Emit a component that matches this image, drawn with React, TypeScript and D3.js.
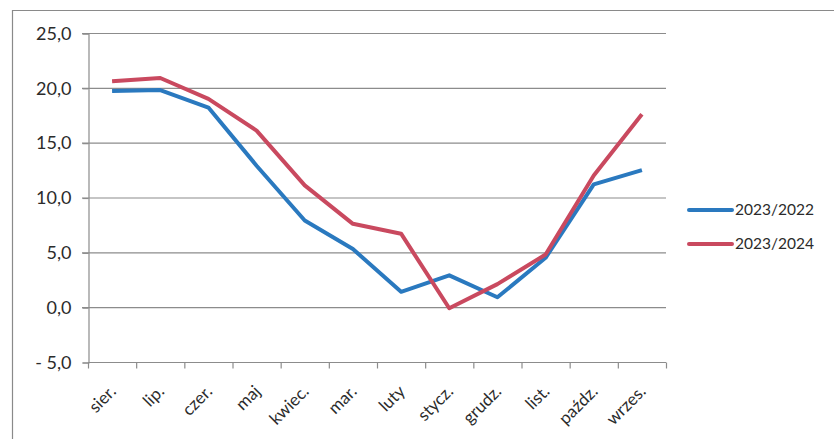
import { useEffect, useRef } from "react"
import * as d3 from "d3"

const months = ["sier.", "lip.", "czer.", "maj", "kwiec.", "mar.", "luty", "stycz.", "grudz.", "list.", "paźdz.", "wrzes."]
const series2022 = [19.7, 19.8, 18.2, 12.9, 7.9, 5.3, 1.4, 2.9, 0.9, 4.5, 11.2, 12.5]
const series2024 = [20.6, 20.9, 19.0, 16.1, 11.1, 7.6, 6.7, -0.1, 2.1, 4.8, 12.0, 17.6]
const yTicks = [-5, 0, 5, 10, 15, 20, 25]

const seriesList = [
  { name: "2023/2022", values: series2022, color: "#2a79bf" },
  { name: "2023/2024", values: series2024, color: "#c9495f" },
]

const W = 834
const H = 439

export default function App() {
  const svgRef = useRef<SVGSVGElement>(null)

  useEffect(() => {
    const svg = d3.select(svgRef.current!)
    svg.selectAll("*").remove()

    const left = 88
    const right = 666
    const top = 33
    const bottom = 362
    const font = "Lato, 'Open Sans', sans-serif"
    const textColor = "#2b2b2b"

    // outer frame (only top and left visible in the scan)
    svg.append("path").attr("d", `M12.5,${H} V10.5 H${W}`).attr("fill", "none").attr("stroke", "#8a8a8a").attr("stroke-width", 1.2)

    const x = d3.scaleBand<string>().domain(months).range([left, right])
    const y = d3.scaleLinear().domain([-5, 25]).range([bottom, top])

    const fmt = (v: number) => (v < 0 ? "- " + Math.abs(v).toFixed(1) : v.toFixed(1)).replace(".", ",")

    // gridlines
    svg
      .append("g")
      .selectAll("line")
      .data(yTicks.filter((t) => t !== -5))
      .enter()
      .append("line")
      .attr("x1", left - 6)
      .attr("x2", right)
      .attr("y1", (d) => y(d) + 0.5)
      .attr("y2", (d) => y(d) + 0.5)
      .attr("stroke", "#8c8c8c")
      .attr("stroke-width", 1.2)

    // y axis
    const yAxis = svg.append("g").attr("transform", `translate(${left + 0.5},0.5)`)
    yAxis.call(
      d3
        .axisLeft(y)
        .tickValues(yTicks)
        .tickSize(6)
        .tickFormat((d) => fmt(d as number)),
    )
    yAxis.select(".domain").attr("stroke", "#8c8c8c").attr("stroke-width", 1.2)
    yAxis.selectAll(".tick line").attr("stroke", "#8c8c8c").attr("stroke-width", 1.2)
    yAxis
      .selectAll(".tick text")
      .attr("x", -17)
      .attr("font-family", font)
      .attr("font-size", 18)
      .attr("fill", textColor)

    // x axis
    const xAxis = svg.append("g").attr("transform", `translate(0,${bottom + 0.5})`)
    xAxis.append("line").attr("x1", left).attr("x2", right).attr("stroke", "#8c8c8c").attr("stroke-width", 1.2)
    const tickXs = months.map((m) => x(m)!).concat([right])
    xAxis
      .selectAll("line.tk")
      .data(tickXs)
      .enter()
      .append("line")
      .attr("class", "tk")
      .attr("x1", (d) => d + 0.5)
      .attr("x2", (d) => d + 0.5)
      .attr("y1", 0)
      .attr("y2", 6)
      .attr("stroke", "#8c8c8c")
      .attr("stroke-width", 1.2)
    xAxis
      .selectAll("text")
      .data(months)
      .enter()
      .append("text")
      .attr("transform", (d) => `translate(${x(d)! + x.bandwidth() / 2 + 5},30) rotate(-45)`)
      .attr("text-anchor", "end")
      .attr("font-family", font)
      .attr("font-size", 17)
      .attr("fill", textColor)
      .text((d) => d)

    // lines
    const line = d3
      .line<number>()
      .x((_, i) => x(months[i])! + x.bandwidth() / 2)
      .y((d) => y(d))
    svg
      .append("g")
      .selectAll("path")
      .data(seriesList)
      .enter()
      .append("path")
      .attr("d", (d) => line(d.values))
      .attr("fill", "none")
      .attr("stroke", (d) => d.color)
      .attr("stroke-width", 4)
      .attr("stroke-linejoin", "round")

    // legend
    const legend = svg.append("g").attr("transform", "translate(689,210)")
    seriesList.forEach((s, i) => {
      const g = legend.append("g").attr("transform", `translate(0,${i * 34})`)
      g.append("line").attr("x1", 0).attr("x2", 43).attr("stroke", s.color).attr("stroke-width", 4).attr("stroke-linecap", "round")
      g.append("text")
        .attr("x", 46)
        .attr("dy", "0.35em")
        .attr("font-family", font)
        .attr("font-size", 15.5)
        .attr("fill", textColor)
        .text(s.name)
    })
  }, [])

  return (
    <div style={{ position: "absolute", left: 0, top: 0 }}>
      <svg ref={svgRef} width={W} height={H} style={{ display: "block", background: "#fff" }} />
    </div>
  )
}
